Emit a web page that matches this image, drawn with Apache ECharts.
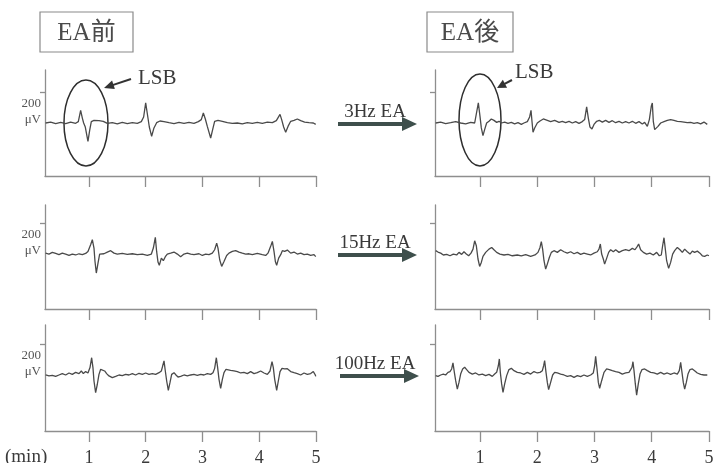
<!DOCTYPE html>
<html><head><meta charset="utf-8">
<script src="https://cdn.jsdelivr.net/npm/echarts@6/dist/echarts.min.js"></script>
<style>html,body{margin:0;padding:0;background:#fff}#c{width:717px;height:463px}</style>
</head><body><div id="c"></div>
<script>
// ---- data ----
const minuteTicks = [1, 2, 3, 4, 5];
const ampTicks = [200];
const panelTitles = ['EA前', 'EA後'];
const stimLabels = ['3Hz EA', '15Hz EA', '100Hz EA'];
const xUnit = '(min)';
const yUnit = 'μV';
const markLabel = 'LSB';

// time (min), amplitude (μV)
const before3Hz = [[0.236,0],[0.325,6],[0.413,-4],[0.501,4],[0.589,-4],[0.677,6],[0.765,-2],[0.812,9],[0.853,82],[0.883,32],[0.906,0],[0.935,-26],[0.982,-119],[1.012,-48],[1.041,9],[1.088,17],[1.176,15],[1.252,11],[1.323,-2],[1.411,2],[1.499,-6],[1.587,4],[1.675,-4],[1.764,2],[1.852,-2],[1.922,9],[1.963,39],[1.999,130],[2.028,60],[2.063,-26],[2.104,-86],[2.145,-32],[2.192,2],[2.251,13],[2.321,9],[2.410,2],[2.498,-4],[2.586,4],[2.674,-2],[2.762,4],[2.850,-2],[2.927,9],[2.979,22],[3.015,65],[3.050,26],[3.085,-22],[3.144,-97],[3.179,-43],[3.214,11],[3.273,17],[3.350,11],[3.438,2],[3.526,-2],[3.614,0],[3.702,-6],[3.790,2],[3.878,-2],[3.966,4],[4.054,-2],[4.143,6],[4.231,2],[4.301,15],[4.336,26],[4.366,56],[4.395,22],[4.430,-26],[4.466,-60],[4.507,-22],[4.554,11],[4.613,17],[4.671,26],[4.730,15],[4.800,6],[4.877,2],[4.953,0],[4.995,-9]];
const after3Hz = [[0.226,0],[0.313,6],[0.400,-4],[0.488,2],[0.575,9],[0.662,0],[0.750,-6],[0.837,4],[0.907,0],[0.936,11],[0.971,130],[1.000,43],[1.023,-32],[1.052,-82],[1.081,-43],[1.116,0],[1.157,11],[1.198,26],[1.244,17],[1.291,4],[1.332,11],[1.378,0],[1.431,6],[1.489,-2],[1.547,4],[1.605,-6],[1.664,2],[1.722,-9],[1.768,0],[1.827,9],[1.867,39],[1.891,82],[1.908,11],[1.926,-60],[1.955,-32],[2.001,0],[2.048,13],[2.106,26],[2.176,17],[2.234,9],[2.304,17],[2.380,4],[2.438,11],[2.496,2],[2.555,11],[2.613,0],[2.671,9],[2.729,-2],[2.787,9],[2.828,22],[2.863,104],[2.892,32],[2.921,-26],[2.956,-39],[2.991,-9],[3.038,11],[3.084,17],[3.137,6],[3.195,17],[3.253,4],[3.311,15],[3.369,2],[3.428,11],[3.486,0],[3.544,9],[3.602,0],[3.661,11],[3.719,-2],[3.777,9],[3.835,-6],[3.876,4],[3.923,-22],[3.958,22],[3.992,108],[4.010,130],[4.027,11],[4.051,-43],[4.074,-54],[4.109,-22],[4.156,0],[4.214,9],[4.272,17],[4.330,22],[4.388,17],[4.447,11],[4.505,9],[4.563,6],[4.621,2],[4.680,4],[4.738,-2],[4.796,2],[4.854,-6],[4.912,6],[4.970,-9]];
const before15Hz = [[0.236,6],[0.295,0],[0.354,11],[0.413,4],[0.471,-4],[0.530,6],[0.589,0],[0.648,-9],[0.706,0],[0.765,-6],[0.824,2],[0.883,-4],[0.941,4],[0.982,17],[1.029,60],[1.059,93],[1.088,39],[1.106,-48],[1.129,-123],[1.159,-58],[1.188,0],[1.217,9],[1.264,2],[1.323,13],[1.382,22],[1.441,6],[1.499,0],[1.587,4],[1.675,-2],[1.764,2],[1.852,-4],[1.940,0],[2.028,-9],[2.099,0],[2.134,39],[2.169,108],[2.192,17],[2.216,-52],[2.239,-73],[2.275,-26],[2.310,-43],[2.345,-17],[2.380,0],[2.439,6],[2.498,13],[2.557,0],[2.615,-17],[2.674,0],[2.733,6],[2.792,0],[2.850,-4],[2.939,2],[2.997,-9],[3.056,0],[3.115,-4],[3.173,6],[3.214,28],[3.250,71],[3.273,39],[3.303,-37],[3.338,-80],[3.379,-48],[3.426,-9],[3.467,6],[3.526,17],[3.585,22],[3.643,13],[3.702,6],[3.761,0],[3.820,2],[3.878,-4],[3.966,4],[4.054,-4],[4.113,-9],[4.154,6],[4.201,50],[4.231,82],[4.260,17],[4.284,-48],[4.307,-73],[4.342,-26],[4.378,-4],[4.407,22],[4.448,17],[4.495,26],[4.554,6],[4.613,13],[4.671,0],[4.730,6],[4.789,-4],[4.847,0],[4.906,-9],[4.965,-4],[4.995,-17]];
const after15Hz = [[0.226,22],[0.266,13],[0.313,6],[0.360,-6],[0.418,-2],[0.476,-11],[0.534,0],[0.592,-6],[0.633,11],[0.680,-2],[0.720,15],[0.761,0],[0.802,-11],[0.843,6],[0.878,32],[0.907,86],[0.936,54],[0.965,-32],[0.994,-80],[1.023,-54],[1.052,-15],[1.099,11],[1.157,32],[1.204,43],[1.244,28],[1.291,11],[1.349,0],[1.419,-6],[1.489,-2],[1.565,-11],[1.652,-6],[1.722,-11],[1.798,-4],[1.885,-15],[1.961,-6],[2.013,11],[2.048,43],[2.071,80],[2.094,32],[2.118,-43],[2.147,-97],[2.176,-65],[2.211,-22],[2.246,11],[2.292,22],[2.351,11],[2.409,28],[2.467,15],[2.525,6],[2.584,15],[2.642,2],[2.700,11],[2.758,-2],[2.816,6],[2.875,0],[2.933,-6],[2.991,6],[3.049,15],[3.078,32],[3.102,65],[3.125,0],[3.154,-32],[3.177,-65],[3.212,-28],[3.247,11],[3.282,28],[3.329,15],[3.370,28],[3.428,11],[3.486,22],[3.544,28],[3.602,22],[3.661,37],[3.707,28],[3.748,50],[3.771,65],[3.806,28],[3.853,11],[3.911,0],[3.969,6],[4.027,-6],[4.086,11],[4.132,-11],[4.167,-6],[4.190,54],[4.214,106],[4.237,32],[4.260,-43],[4.295,-93],[4.330,-54],[4.365,0],[4.400,22],[4.447,43],[4.493,28],[4.534,11],[4.575,32],[4.621,15],[4.668,0],[4.709,19],[4.749,11],[4.796,19],[4.842,6],[4.883,-11],[4.924,-15],[4.970,-6],[4.999,-11]];
const before100Hz = [[0.236,0],[0.295,-6],[0.354,-2],[0.413,-9],[0.471,0],[0.530,9],[0.589,0],[0.648,13],[0.706,4],[0.765,17],[0.824,9],[0.865,26],[0.900,9],[0.941,22],[0.982,13],[1.018,48],[1.047,112],[1.070,48],[1.088,-39],[1.117,-114],[1.147,-60],[1.176,4],[1.206,37],[1.241,43],[1.276,26],[1.311,9],[1.352,-6],[1.411,-17],[1.470,-9],[1.529,0],[1.587,-4],[1.646,4],[1.705,0],[1.764,9],[1.822,0],[1.881,11],[1.940,4],[1.999,13],[2.057,4],[2.116,9],[2.175,4],[2.234,15],[2.275,26],[2.298,58],[2.322,91],[2.345,26],[2.369,-39],[2.398,-99],[2.427,-50],[2.457,4],[2.498,15],[2.533,0],[2.568,-13],[2.615,-9],[2.674,0],[2.733,-6],[2.792,0],[2.850,4],[2.909,-2],[2.968,4],[3.027,0],[3.085,9],[3.144,4],[3.185,15],[3.214,43],[3.244,112],[3.267,48],[3.291,-28],[3.320,-86],[3.350,-28],[3.379,15],[3.414,37],[3.449,43],[3.496,30],[3.555,26],[3.614,22],[3.673,13],[3.731,17],[3.790,9],[3.849,22],[3.908,9],[3.966,15],[4.025,26],[4.084,13],[4.143,4],[4.190,26],[4.225,86],[4.248,48],[4.272,-28],[4.307,-99],[4.336,-39],[4.366,22],[4.401,43],[4.448,39],[4.495,41],[4.554,22],[4.613,15],[4.671,9],[4.730,0],[4.789,13],[4.847,4],[4.906,9],[4.953,22],[4.988,0],[4.995,-9]];
const after100Hz = [[0.226,-4],[0.266,-9],[0.313,0],[0.360,6],[0.400,0],[0.441,17],[0.476,22],[0.505,39],[0.528,78],[0.552,17],[0.575,-37],[0.604,-91],[0.633,-48],[0.662,6],[0.697,39],[0.732,50],[0.767,35],[0.808,17],[0.866,6],[0.924,13],[0.982,0],[1.041,6],[1.099,-4],[1.157,4],[1.215,-9],[1.256,6],[1.291,17],[1.320,60],[1.338,104],[1.355,17],[1.378,-58],[1.402,-112],[1.431,-58],[1.466,-4],[1.506,35],[1.547,43],[1.594,28],[1.652,17],[1.710,13],[1.768,4],[1.827,17],[1.885,6],[1.943,22],[2.001,13],[2.048,17],[2.089,28],[2.112,60],[2.129,93],[2.153,17],[2.176,-48],[2.199,-95],[2.234,-48],[2.269,0],[2.304,17],[2.351,13],[2.409,6],[2.467,0],[2.525,-9],[2.584,-4],[2.642,-15],[2.700,-4],[2.758,-11],[2.816,0],[2.875,-9],[2.933,0],[2.979,13],[3.003,60],[3.020,121],[3.044,39],[3.067,-48],[3.090,-86],[3.125,-37],[3.166,17],[3.212,39],[3.259,35],[3.311,28],[3.369,22],[3.428,17],[3.486,6],[3.544,13],[3.602,17],[3.631,35],[3.655,50],[3.672,86],[3.690,28],[3.713,-58],[3.736,-130],[3.765,-58],[3.795,6],[3.830,35],[3.876,39],[3.923,28],[3.981,17],[4.039,13],[4.097,6],[4.156,17],[4.214,6],[4.272,13],[4.330,4],[4.388,13],[4.447,6],[4.481,28],[4.505,82],[4.528,17],[4.551,-48],[4.575,-91],[4.604,-48],[4.633,6],[4.668,35],[4.709,39],[4.749,28],[4.796,13],[4.854,4],[4.912,0],[4.970,0]];

const traces = [before3Hz, after3Hz, before15Hz, after15Hz, before100Hz, after100Hz];
const lsbCenters = [[0.947, 0], [1.0, 0]];   // (min, μV) centre of the LSB ellipse, row 1

// ---- layout ----
const SERIF = '"Liberation Serif","DejaVu Serif","Noto Sans CJK JP",serif';
const AXIS_C = '#8e8e8e', TRACE_C = '#4a4a4a', ARROW_C = '#3e4f4c', TEXT_C = '#3a3a3a';
const rows = [
  {top: 70, height: 106, yMin: -343, yMax: 343},
  {top: 205, height: 104, yMin: -356, yMax: 318},
  {top: 325, height: 106, yMin: -363, yMax: 324}
];
const cols = [{left: 45, width: 271, xMin: 0.225}, {left: 435, width: 274, xMin: 0.214}];

const grid = [], xAxis = [], yAxis = [], series = [];
rows.forEach((r, ri) => cols.forEach((c, ci) => {
  const i = ri * 2 + ci;
  grid.push({left: c.left, top: r.top, width: c.width, height: r.height, containLabel: false, outerBoundsMode: 'none'});
  xAxis.push({
    type: 'value', gridIndex: i, min: c.xMin, max: 5,
    axisLine: {onZero: false, lineStyle: {color: AXIS_C, width: 1.3}},
    axisTick: {customValues: minuteTicks, length: 11, lineStyle: {color: AXIS_C, width: 1.3}},
    axisLabel: ri === 2 ? {customValues: minuteTicks, margin: 18, verticalAlign: 'top',
      fontSize: 18, fontFamily: SERIF, color: TEXT_C} : {show: false},
    splitLine: {show: false}
  });
  yAxis.push({
    type: 'value', gridIndex: i, min: r.yMin, max: r.yMax,
    axisLine: {show: true, onZero: false, lineStyle: {color: AXIS_C, width: 1.3}},
    axisTick: {show: true, customValues: ampTicks, length: 5, lineStyle: {color: AXIS_C, width: 1.3}},
    axisLabel: ci === 0 ? {customValues: ampTicks, formatter: v => v + '\n' + yUnit, margin: 4,
      verticalAlign: 'top', lineHeight: 16, padding: [3, 0, 0, 0], fontSize: 13, fontFamily: SERIF, color: '#555'} : {show: false},
    splitLine: {show: false}
  });
  series.push({
    type: 'line', xAxisIndex: i, yAxisIndex: i, data: traces[i], showSymbol: false, silent: true,
    lineStyle: {color: TRACE_C, width: 1.3}, animation: false
  });
}));

const chart = echarts.init(document.getElementById('c'), null, {renderer: 'canvas'});
chart.setOption({backgroundColor: '#ffffff', animation: false, grid, xAxis, yAxis, series});

// ---- annotations ----
const g = [];
// title boxes
[[40, 93, 0], [427, 86, 1]].forEach(([x, w, k]) => {
  g.push({type: 'rect', shape: {x: x, y: 12, width: w, height: 40}, style: {fill: 'none', stroke: '#8a8a8a', lineWidth: 1.2}});
  g.push({type: 'text', x: x + w / 2, y: 33, style: {text: panelTitles[k], fontSize: 25, fontFamily: SERIF, fill: '#4a4a4a', align: 'center', verticalAlign: 'middle'}});
});
// LSB ellipses
const ell = [[0, 22, 43], [1, 21, 46]];
ell.forEach(([ci, rx, ry]) => {
  const p = chart.convertToPixel({gridIndex: ci}, lsbCenters[ci]);
  g.push({type: 'ellipse', shape: {cx: p[0], cy: p[1] - (ci ? 3 : 0), rx: rx, ry: ry}, style: {fill: 'none', stroke: '#2e2e2e', lineWidth: 1.5}});
});
// LSB labels and small arrows
function arrow(x1, y1, x2, y2, hl, hw, lw, color) {
  const dx = x2 - x1, dy = y2 - y1, L = Math.hypot(dx, dy), ux = dx / L, uy = dy / L;
  const bx = x2 - ux * hl, by = y2 - uy * hl, px = -uy * hw, py = ux * hw;
  g.push({type: 'line', shape: {x1: x1, y1: y1, x2: bx + ux * 1, y2: by + uy * 1}, style: {stroke: color, lineWidth: lw}});
  g.push({type: 'polygon', shape: {points: [[x2, y2], [bx + px, by + py], [bx - px, by - py]]}, style: {fill: color}});
}
g.push({type: 'text', x: 138, y: 78, style: {text: markLabel, fontSize: 21, fontFamily: SERIF, fill: TEXT_C, verticalAlign: 'middle'}});
arrow(131, 79, 104, 88, 10, 4.5, 2, '#333');
g.push({type: 'text', x: 515, y: 72, style: {text: markLabel, fontSize: 21, fontFamily: SERIF, fill: TEXT_C, verticalAlign: 'middle'}});
arrow(512, 80, 497, 88, 9, 4.5, 2, '#333');
// stimulation arrows between columns
[[0, 338, 417], [1, 338, 417], [2, 340, 419]].forEach(([ri, x1, x2], k) => {
  const y = chart.convertToPixel({gridIndex: ri * 2 + 1}, [1, 0])[1] + 1;
  arrow(x1, y, x2, y, 15, 7, 4, ARROW_C);
  g.push({type: 'text', x: 375, y: y - 12, style: {text: stimLabels[k], fontSize: 19, fontFamily: SERIF, fill: TEXT_C, align: 'center', verticalAlign: 'middle'}});
});
// x unit
g.push({type: 'text', x: 5, y: 448, style: {text: xUnit, fontSize: 19, fontFamily: SERIF, fill: TEXT_C, verticalAlign: 'top'}});

chart.setOption({graphic: g});
</script></body></html>
